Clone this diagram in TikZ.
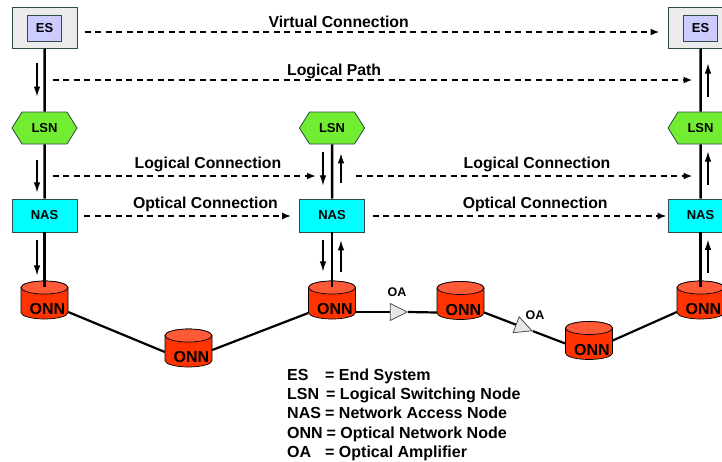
\documentclass[tikz,border=0pt]{standalone}
\usepackage{fontspec}
\setmainfont{Liberation Sans}
\usetikzlibrary{arrows.meta,shapes.geometric,shapes.symbols}
\definecolor{esgray}{HTML}{EBEBEB}
\definecolor{esblue}{HTML}{CCCCFF}
\definecolor{edgecol}{HTML}{2E4A4A}
\definecolor{lsngreen}{HTML}{72EE32}
\definecolor{nascyan}{HTML}{00FFFF}
\definecolor{onnred}{HTML}{FF3300}
\definecolor{onntop}{HTML}{FF5A38}
\definecolor{oagray}{HTML}{E6E6E6}
\tikzset{
 nodefont/.style={font=\bfseries\fontsize{13}{15}\selectfont},
 esouter/.style={rectangle, draw=edgecol, line width=1pt, fill=esgray, minimum width=65pt, minimum height=41pt, inner sep=0pt},
 esinner/.style={rectangle, draw=edgecol, line width=1pt, fill=esblue, minimum width=34pt, minimum height=26pt, inner sep=0pt, nodefont},
 lsnbox/.style={signal, signal to=west and east, signal pointer angle=116, draw=edgecol, line width=0.8pt, fill=lsngreen, minimum width=65pt, minimum height=32pt, inner sep=0pt, nodefont},
 nasbox/.style={rectangle, draw=edgecol, line width=0.8pt, fill=nascyan, minimum width=65pt, minimum height=33pt, inner sep=0pt, nodefont},
 onnbox/.style={rectangle, minimum width=47pt, minimum height=38pt, inner sep=0pt, label={[onntext]center:ONN}},
 onntext/.style={font=\bfseries\fontsize{16}{18}\selectfont, xshift=3pt, yshift=-9pt, inner sep=0pt},
 onnbody/.style={fill=onnred, draw=black, line width=0.7pt},
 onncap/.style={fill=onntop, draw=black, line width=0.7pt},
 oatri/.style={isosceles triangle, isosceles triangle apex angle=53, isosceles triangle stretches, minimum width=17pt, minimum height=17pt, inner sep=0pt, fill=oagray, draw=black!70, line width=0.8pt},
 oatext/.style={font=\bfseries\fontsize{12.5}{14}\selectfont, inner sep=0pt, anchor=base},
 trunk/.style={line width=2.5pt, black},
 link/.style={line width=2.2pt, black},
 flow/.style={line width=1.1pt, -{Latex[length=10pt,width=6.5pt]}},
 dasharrow/.style={line width=1.8pt, dash pattern=on 6pt off 4.5pt, -{Latex[length=9pt,width=7pt]}},
 conlabel/.style={font=\bfseries\fontsize{15.8}{18}\selectfont, anchor=base, inner sep=0pt},
 legend/.style={font=\bfseries\fontsize{16}{18}\selectfont, anchor=base west, inner sep=0pt},
}
\newcommand{\onnat}[3]{%
  \begin{scope}[shift={(#2,#3)}]
    \filldraw[onnbody] (-23.5pt,12.5pt) -- (-23.5pt,-12.5pt)
      arc[start angle=180,end angle=360,x radius=23.5pt,y radius=6.5pt]
      -- (23.5pt,12.5pt)
      arc[start angle=0,end angle=180,x radius=23.5pt,y radius=6.5pt] -- cycle;
    \filldraw[onncap] (0pt,12.5pt) ellipse[x radius=23.5pt,y radius=6.5pt];
  \end{scope}
  \node[onnbox] (#1) at (#2,#3) {};
}
\begin{document}
\begin{tikzpicture}[x=1pt,y=-1pt]
\useasboundingbox (0,0) rectangle (722,461);
\clip (0,0) rectangle (722,461);

% end systems
\node[esouter] (es1o) at (44.5,27.5) {};
\node[esinner] (es1) at (44.5,28) {ES};
\node[esouter] (es3o) at (700.5,27.5) {};
\node[esinner] (es3) at (700.5,28) {ES};

% LSN
\node[lsnbox] (lsn1) at (44.5,128) {LSN};
\node[lsnbox] (lsn2) at (332,128) {LSN};
\node[lsnbox] (lsn3) at (700.5,128) {LSN};

% NAS
\node[nasbox] (nas1) at (44.5,215.5) {NAS};
\node[nasbox] (nas2) at (332,215.5) {NAS};
\node[nasbox] (nas3) at (700.5,215.5) {NAS};

% ONN
\onnat{onnL}{44.5}{300}
\onnat{onnA}{188.5}{348}
\onnat{onnM}{332}{300}
\onnat{onnB}{460.5}{300.5}
\onnat{onnC}{589}{340.5}
\onnat{onnR}{700.5}{300}

% OA
\node[oatri] (oa1) at (395.5,312) {};
\node[oatri, rotate=-20.8] (oa2) at (521,326.6) {};
\node[oatext] (oal1) at (397,296.5) {OA};
\node[oatext] (oal2) at (535,319) {OA};

% trunks
\draw[trunk] (es1o) -- (lsn1);
\draw[trunk] (lsn1) -- (nas1);
\draw[trunk] (nas1) -- ([yshift=-6.5pt]onnL.north);
\draw[trunk] (lsn2) -- (nas2);
\draw[trunk] (nas2) -- ([yshift=-6.5pt]onnM.north);
\draw[trunk] (es3o) -- (lsn3);
\draw[trunk] (lsn3) -- (nas3);
\draw[trunk] (nas3) -- ([yshift=-6.5pt]onnR.north);

% optical links
\draw[link] ([yshift=-12pt]onnL.east) -- ([yshift=-4pt]onnA.west);
\draw[link] ([yshift=-2pt]onnA.east) -- ([yshift=-13pt]onnM.west);
\draw[link] ([yshift=-12pt]onnM.east) -- (oa1.lower side);
\draw[link] (oa1.apex) -- ([yshift=-12pt]onnB.west);
\draw[link] ([yshift=-12pt]onnB.east) -- (oa2.lower side);
\draw[link] (oa2.apex) -- ([yshift=-3pt]onnC.west);
\draw[link] (onnC.east) -- ([yshift=-12pt]onnR.west);

% flow arrows
\draw[flow] ([xshift=-7.5pt,yshift=-14pt]es1o.south) -- ++(0,34);
\draw[flow] ([xshift=-7.5pt,yshift=-16pt]lsn1.south) -- ++(0,32);
\draw[flow] ([xshift=-7.5pt,yshift=-8pt]nas1.south) -- ++(0,35);
\draw[flow] ([xshift=-9pt,yshift=-8pt]lsn2.south) -- ++(0,33);
\draw[flow] ([xshift=9pt,yshift=-39pt]lsn2.south) -- ++(0,-30);
\draw[flow] ([xshift=-9pt,yshift=-8pt]nas2.south) -- ++(0,31);
\draw[flow] ([xshift=9pt,yshift=-40pt]nas2.south) -- ++(0,-32);
\draw[flow] ([xshift=7.5pt,yshift=15pt]lsn3.north) -- ++(0,-33);
\draw[flow] ([xshift=7.5pt,yshift=14pt]nas3.north) -- ++(0,-33);
\draw[flow] ([xshift=7.5pt,yshift=8pt]onnR.north) -- ++(0,-33);

% dashed connections
\coordinate (lpA) at (52.5,80);
\coordinate (lpB) at (692.5,80);
\coordinate (lcA) at (52.5,176);
\coordinate (lcB) at (316,176);
\coordinate (lcC) at (356,176);
\coordinate (lcD) at (692.5,176);
\draw[dasharrow] ([xshift=7pt,yshift=-4.5pt]es1o.east) -- node[conlabel,pos=0.442,yshift=4.5pt]{Virtual Connection} ([xshift=-8pt,yshift=-4.5pt]es3o.west);
\draw[dasharrow] (lpA) -- node[conlabel,pos=0.44,yshift=4.5pt]{Logical Path} (lpB);
\draw[dasharrow] (lcA) -- node[conlabel,pos=0.59,yshift=7.5pt]{Logical Connection} (lcB);
\draw[dasharrow] (lcC) -- node[conlabel,pos=0.538,yshift=7.5pt]{Logical Connection} (lcD);
\draw[dasharrow] ([xshift=7pt,yshift=-0.5pt]nas1.east) -- node[conlabel,pos=0.5855,yshift=7.5pt]{Optical Connection} ([xshift=-8pt,yshift=-0.5pt]nas2.west);
\draw[dasharrow] ([xshift=8pt,yshift=-0.5pt]nas2.east) -- node[conlabel,pos=0.5525,yshift=7.5pt]{Optical Connection} ([xshift=-1pt,yshift=-0.5pt]nas3.west);

% legend
\node[legend] (lg1a) at (287,380) {ES};
\node[legend] (lg1b) at (325,380) {= End System};
\node[legend] (lg2a) at (287,399) {LSN};
\node[legend] (lg2b) at (326,399) {= Logical Switching Node};
\node[legend] (lg3a) at (287,418) {NAS};
\node[legend] (lg3b) at (325,418) {= Network Access Node};
\node[legend] (lg4a) at (287,438) {ONN};
\node[legend] (lg4b) at (326.5,438) {= Optical Network Node};
\node[legend] (lg5a) at (287,457) {OA};
\node[legend] (lg5b) at (325,457) {= Optical Amplifier};
\end{tikzpicture}
\end{document}
